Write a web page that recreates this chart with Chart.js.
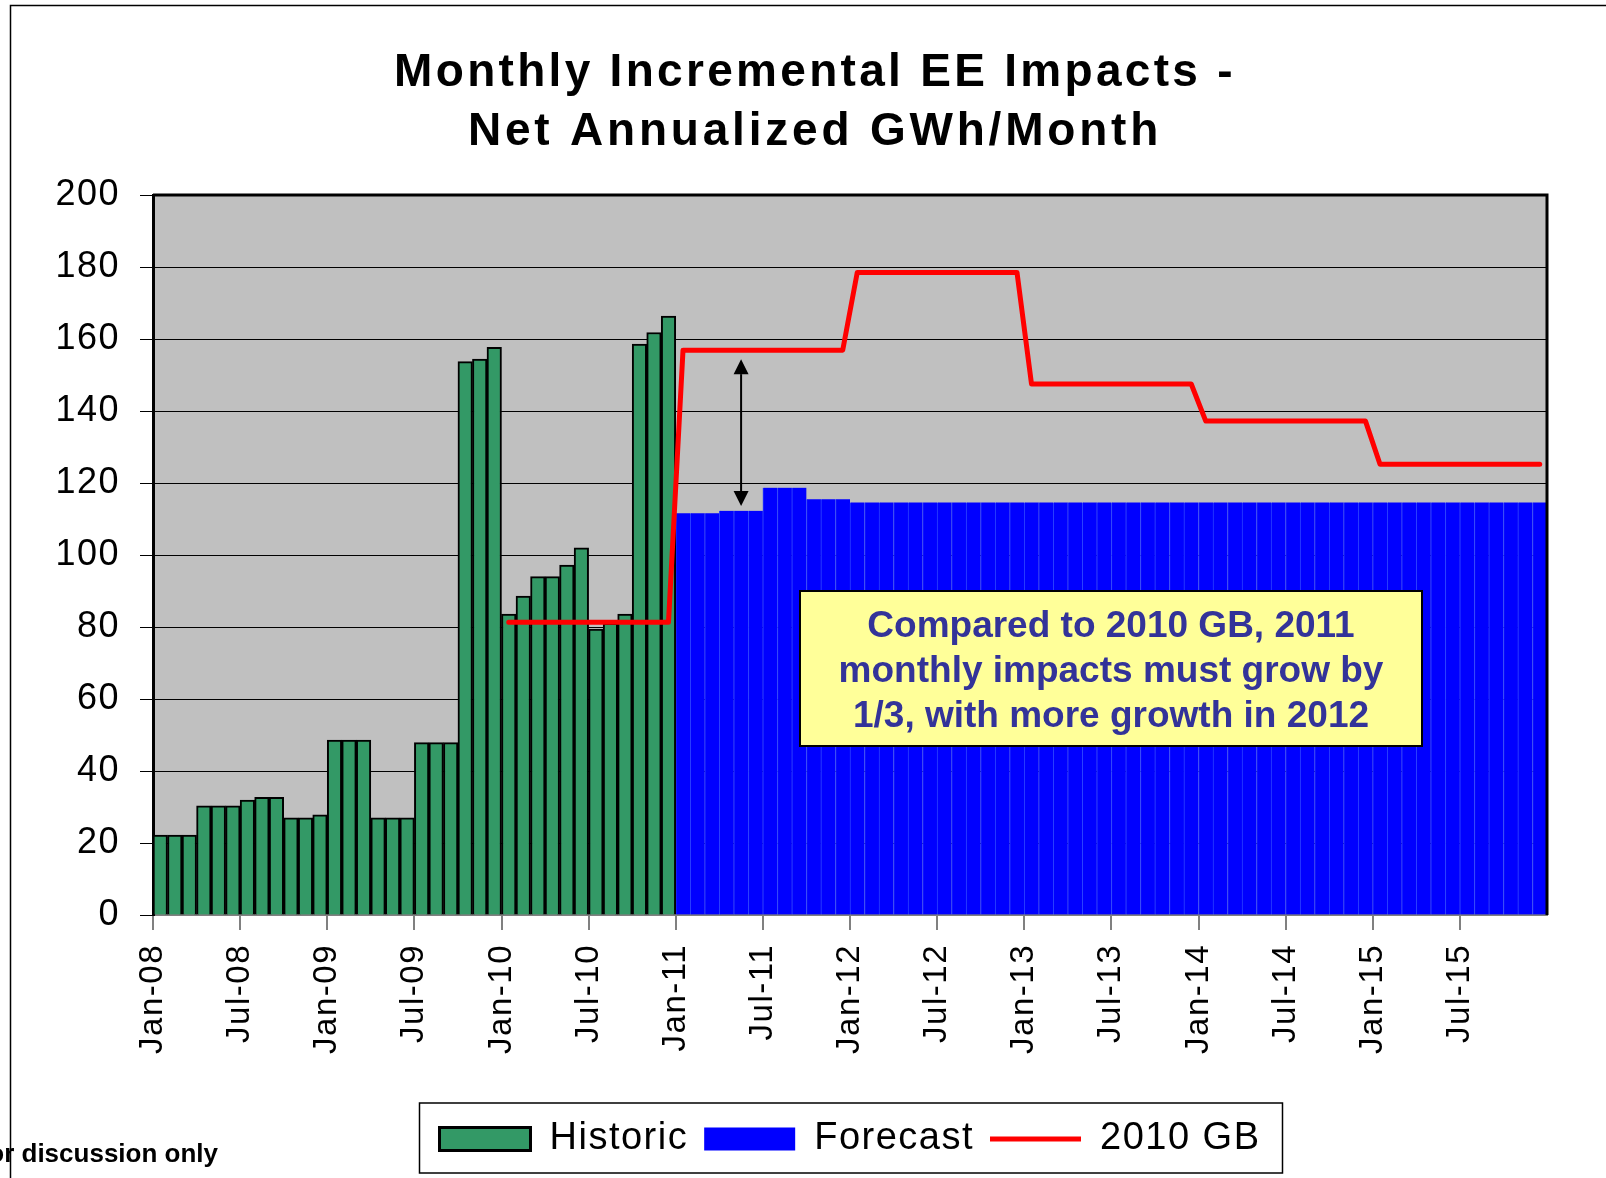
<!DOCTYPE html>
<html>
<head>
<meta charset="utf-8">
<title>Monthly Incremental EE Impacts</title>
<script src="https://cdn.jsdelivr.net/npm/chart.js@4.4.1/dist/chart.umd.min.js"></script>
<style>
  html, body { margin: 0; padding: 0; background: #fff; }
  canvas { display: block; }
</style>
</head>
<body>
<canvas id="eeChart" width="1606" height="1178"></canvas>
<script>
// Month labels Jan-08 .. Dec-15
const monthNames = ["Jan", "Feb", "Mar", "Apr", "May", "Jun", "Jul", "Aug", "Sep", "Oct", "Nov", "Dec"];
const years = ["08", "09", "10", "11", "12", "13", "14", "15"];
const months = years.flatMap(y => monthNames.map(m => m + "-" + y));

// Historic bars, Jan-08 .. Dec-10 (GWh)
const historic = [
  22.2, 22.2, 22.2, 30.3, 30.3, 30.3, 31.9, 32.7, 32.7, 27.0, 27.0, 27.8,
  48.6, 48.6, 48.6, 27.0, 27.0, 27.0, 47.9, 47.9, 47.9, 153.7, 154.4, 157.7,
  83.6, 88.6, 94.0, 94.0, 97.2, 102.0, 79.4, 81.0, 83.6, 158.6, 161.8, 166.4
];

// Forecast bars, Jan-11 .. Dec-15
const forecast = [
  111.6, 111.6, 111.6, 112.3, 112.3, 112.3, 118.7, 118.7, 118.7, 115.5, 115.5, 115.5,
  114.6, 114.6, 114.6, 114.6, 114.6, 114.6, 114.6, 114.6, 114.6, 114.6, 114.6, 114.6,
  114.6, 114.6, 114.6, 114.6, 114.6, 114.6, 114.6, 114.6, 114.6, 114.6, 114.6, 114.6,
  114.6, 114.6, 114.6, 114.6, 114.6, 114.6, 114.6, 114.6, 114.6, 114.6, 114.6, 114.6,
  114.6, 114.6, 114.6, 114.6, 114.6, 114.6, 114.6, 114.6, 114.6, 114.6, 114.6, 114.6
];

// 2010 GB line, Jan-10 .. Dec-15
const gb2010 = [
  81.3, 81.3, 81.3, 81.3, 81.3, 81.3, 81.3, 81.3, 81.3, 81.3, 81.3, 81.3,
  156.9, 156.9, 156.9, 156.9, 156.9, 156.9, 156.9, 156.9, 156.9, 156.9, 156.9, 156.9,
  178.5, 178.5, 178.5, 178.5, 178.5, 178.5, 178.5, 178.5, 178.5, 178.5, 178.5, 178.5,
  147.5, 147.5, 147.5, 147.5, 147.5, 147.5, 147.5, 147.5, 147.5, 147.5, 147.5, 147.5,
  137.2, 137.2, 137.2, 137.2, 137.2, 137.2, 137.2, 137.2, 137.2, 137.2, 137.2, 137.2,
  125.2, 125.2, 125.2, 125.2, 125.2, 125.2, 125.2, 125.2, 125.2, 125.2, 125.2, 125.2
];

const forecastStart = months.indexOf("Jan-11");
const gbStart = months.indexOf("Jan-10");

// the double arrow between the forecast and the 2010 GB line
const arrowMonth = "May-11";
const arrowTop = 154.4;
const arrowBottom = 113.6;

const titleLines = ["Monthly Incremental EE Impacts -", "Net Annualized GWh/Month"];
const noteLines = ["Compared to 2010 GB, 2011", "monthly impacts must grow by", "1/3, with more growth in 2012"];

const GREEN = "#339966";
const BLUE = "#0000FF";
const RED = "#FF0000";

Chart.defaults.font.family = '"Liberation Sans", Arial, sans-serif';
Chart.defaults.color = "#000";

// tick + legend text is slightly spaced out in the original
const spacing = {
  id: "spacing",
  beforeLayout(chart) { chart.ctx.letterSpacing = "1.5px"; },
  beforeDraw(chart) { chart.ctx.letterSpacing = "1.5px"; }
};

const decorations = {
  id: "decorations",
  beforeDraw(chart) {
    const { ctx, chartArea: a } = chart;
    ctx.save();
    ctx.fillStyle = "#C0C0C0";
    ctx.fillRect(a.left, a.top, a.right - a.left, a.bottom - a.top);
    // slide frame
    ctx.strokeStyle = "#000";
    ctx.lineWidth = 1.5;
    ctx.beginPath();
    ctx.moveTo(10.5, chart.height);
    ctx.lineTo(10.5, 5.5);
    ctx.lineTo(chart.width, 5.5);
    ctx.stroke();
    ctx.restore();
  },
  afterDatasetsDraw(chart) {
    const { ctx, chartArea: a, scales } = chart;
    ctx.save();
    // plot frame top + right
    ctx.strokeStyle = "#000";
    ctx.lineWidth = 3;
    ctx.beginPath();
    ctx.moveTo(a.left, a.top);
    ctx.lineTo(a.right, a.top);
    ctx.lineTo(a.right, a.bottom);
    ctx.stroke();

    // double arrow
    const ax = scales.x.getPixelForValue(months.indexOf(arrowMonth));
    const y1 = scales.y.getPixelForValue(arrowTop);
    const y2 = scales.y.getPixelForValue(arrowBottom);
    const h = 15, w = 7.5;
    ctx.lineWidth = 2;
    ctx.beginPath();
    ctx.moveTo(ax, y1 + h);
    ctx.lineTo(ax, y2 - h);
    ctx.stroke();
    ctx.fillStyle = "#000";
    ctx.beginPath();
    ctx.moveTo(ax, y1); ctx.lineTo(ax - w, y1 + h); ctx.lineTo(ax + w, y1 + h); ctx.closePath();
    ctx.moveTo(ax, y2); ctx.lineTo(ax - w, y2 - h); ctx.lineTo(ax + w, y2 - h); ctx.closePath();
    ctx.fill();

    // yellow note box
    ctx.fillStyle = "#FFFF99";
    ctx.fillRect(800, 591, 622, 155);
    ctx.lineWidth = 2;
    ctx.strokeRect(800, 591, 622, 155);
    ctx.letterSpacing = "0px";
    ctx.fillStyle = "#333399";
    ctx.font = 'bold 37px "Liberation Sans", Arial, sans-serif';
    ctx.textAlign = "center";
    ctx.textBaseline = "alphabetic";
    noteLines.forEach((line, i) => ctx.fillText(line, 1111, 637 + i * 45));
    ctx.restore();
  },
  afterDraw(chart) {
    const { ctx } = chart;
    ctx.save();
    // title
    ctx.fillStyle = "#000";
    ctx.textAlign = "center";
    ctx.textBaseline = "alphabetic";
    ctx.font = 'bold 46px "Liberation Sans", Arial, sans-serif';
    ctx.letterSpacing = "3.3px";
    ctx.fillText(titleLines[0], 815, 86);
    ctx.letterSpacing = "3.8px";
    ctx.fillText(titleLines[1], 815, 145);

    // box round the legend
    const boxes = chart.legend.legendHitBoxes;
    if (boxes.length) {
      const first = boxes[0], last = boxes[boxes.length - 1];
      const cy = first.top + first.height / 2;
      ctx.strokeStyle = "#000";
      ctx.lineWidth = 1.5;
      ctx.strokeRect(first.left - 20, cy - 36, last.left + last.width - first.left + 42, 70);
    }

    // footer
    ctx.letterSpacing = "0px";
    ctx.textAlign = "right";
    ctx.font = 'bold 26px "Liberation Sans", Arial, sans-serif';
    ctx.fillText("For discussion only", 218, 1162);
    ctx.restore();
  }
};

const ctx = document.getElementById("eeChart").getContext("2d");

new Chart(ctx, {
  type: "bar",
  data: {
    labels: months,
    datasets: [
      {
        type: "line",
        label: "2010 GB",
        data: Array(gbStart).fill(null).concat(gb2010),
        borderColor: RED,
        backgroundColor: RED,
        borderWidth: 5,
        borderCapStyle: "round",
        borderJoinStyle: "round",
        pointRadius: 0,
        tension: 0,
        order: 0
      },
      {
        label: "Historic",
        data: historic,
        backgroundColor: GREEN,
        borderColor: "#000",
        borderWidth: 2,
        grouped: false,
        barPercentage: 1,
        categoryPercentage: 1,
        order: 1
      },
      {
        label: "Forecast",
        data: Array(forecastStart).fill(null).concat(forecast),
        backgroundColor: BLUE,
        borderColor: "#2a40ff",
        borderWidth: { left: 1, right: 0, top: 0, bottom: 0 },
        grouped: false,
        barPercentage: 1,
        categoryPercentage: 1,
        order: 2
      }
    ]
  },
  options: {
    responsive: false,
    animation: false,
    events: [],
    devicePixelRatio: 1,
    layout: { padding: { top: 195, right: 59, bottom: 10, left: 0 } },
    plugins: {
      title: { display: false },
      tooltip: { enabled: false },
      legend: {
        position: "bottom",
        fullSize: false,
        labels: {
          usePointStyle: true,
          pointStyleWidth: 91,
          boxHeight: 23,
          padding: 16,
          color: "#000",
          font: { size: 38 },
          generateLabels: chart => [1, 2, 0].map(i => {
            const ds = chart.data.datasets[i];
            return {
              text: ds.label,
              datasetIndex: i,
              fillStyle: ds.backgroundColor,
              strokeStyle: ds.type === "line" ? ds.borderColor : (i === 1 ? "#000" : BLUE),
              lineWidth: ds.type === "line" ? 5 : (i === 1 ? 3 : 0),
              pointStyle: ds.type === "line" ? "line" : "rect",
              fontColor: "#000",
              hidden: false
            };
          })
        }
      }
    },
    scales: {
      x: {
        offset: true,
        grid: {
          offset: true,
          drawOnChartArea: false,
          tickLength: 15,
          lineWidth: 2,
          color: c => (c.index % 6 === 0 ? "#808080" : "rgba(0,0,0,0)")
        },
        border: { color: "#808080", width: 2 },
        ticks: {
          autoSkip: false,
          minRotation: 90,
          maxRotation: 90,
          padding: 14,
          labelOffset: -7.26,
          font: { size: 33 },
          color: "#000",
          callback: function (value, index) {
            return index % 6 === 0 ? this.getLabelForValue(value) : "";
          }
        },
        afterFit: s => { s.height = 189; }
      },
      y: {
        min: 0,
        max: 200,
        ticks: { stepSize: 20, padding: 20, font: { size: 36 }, color: "#000" },
        grid: { color: "#000", lineWidth: 1, tickLength: 13 },
        border: { color: "#000", width: 3 },
        afterFit: s => { s.width = 153; }
      }
    }
  },
  plugins: [spacing, decorations]
});
</script>
</body>
</html>
